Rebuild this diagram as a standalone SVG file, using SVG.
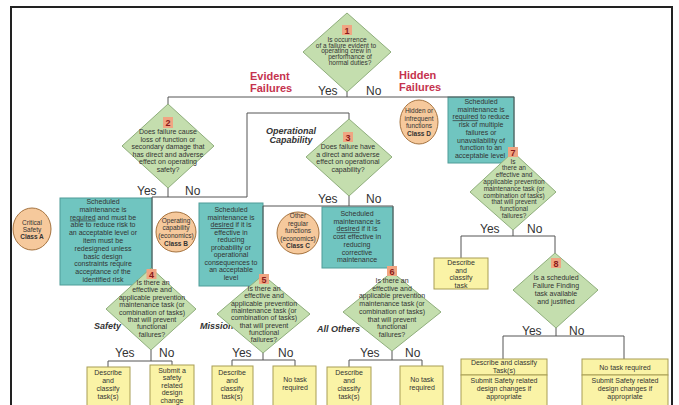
<svg xmlns="http://www.w3.org/2000/svg" width="679" height="405" viewBox="0 0 679 405">
<style>
.t{font-family:"Liberation Sans",Arial,sans-serif;fill:#333;text-anchor:middle}
.s7{font-size:7px}
.s65{font-size:6.5px}
.dia{fill:#c4deae;stroke:#8fae7c;stroke-width:1}
.cy{fill:#70c5c0;stroke:#4f9c98;stroke-width:1}
.ye{fill:#faf3a6;stroke:#a89d55;stroke-width:1}
.ci{fill:#f6c99c;stroke:#a5733f;stroke-width:1}
.bd{fill:#f0a582}
.bn{font-family:"Liberation Sans",Arial,sans-serif;font-size:9px;font-weight:bold;fill:#8b1a1a;text-anchor:middle}
.yn{font-family:"Liberation Sans",Arial,sans-serif;font-size:12px;fill:#333}
.red{font-family:"Liberation Sans",Arial,sans-serif;font-size:11px;font-weight:bold;fill:#c5334e}
.bi{font-family:"Liberation Sans",Arial,sans-serif;font-size:9px;font-weight:bold;font-style:italic;fill:#333}
.conn{stroke:#555;fill:none;stroke-width:1}
.u{text-decoration:underline}
.b{font-weight:bold}
</style>
<rect x="0" y="0" width="679" height="405" fill="#fff"/>
<rect x="11" y="7" width="661" height="410" fill="none" stroke="#222" stroke-width="2"/>

<g id="boxA">
<rect class="cy" x="60" y="198" width="92" height="87"/>
<text class="t s7"><tspan x="103" y="204">Scheduled</tspan><tspan x="103" y="211.8">maintenance is</tspan><tspan x="103" y="219.6"><tspan class="u">required</tspan> and must be</tspan><tspan x="103" y="227.4">able to reduce risk to</tspan><tspan x="103" y="235.2">an acceptable level or</tspan><tspan x="103" y="243">item must be</tspan><tspan x="103" y="250.8">redesigned unless</tspan><tspan x="103" y="258.6">basic design</tspan><tspan x="103" y="266.4">constraints require</tspan><tspan x="103" y="274.2">acceptance of the</tspan><tspan x="103" y="282">identified risk</tspan></text>
</g>

<g id="boxB">
<rect class="cy" x="199" y="203" width="64" height="83"/>
<text class="t s7"><tspan x="231" y="212">Scheduled</tspan><tspan x="231" y="219.5">maintenance is</tspan><tspan x="231" y="227"><tspan class="u">desired</tspan> if it is</tspan><tspan x="231" y="234.5">effective in</tspan><tspan x="231" y="242">reducing</tspan><tspan x="231" y="249.5">probability or</tspan><tspan x="231" y="257">operational</tspan><tspan x="231" y="264.5">consequences to</tspan><tspan x="231" y="272">an acceptable</tspan><tspan x="231" y="279.5">level</tspan></text>
</g>

<g id="boxC">
<rect class="cy" x="322" y="207" width="71" height="61"/>
<text class="t s7"><tspan x="357" y="216">Scheduled</tspan><tspan x="357" y="223.7">maintenance is</tspan><tspan x="357" y="231.4"><tspan class="u">desired</tspan> if it is</tspan><tspan x="357" y="239.1">cost effective in</tspan><tspan x="357" y="246.8">reducing</tspan><tspan x="357" y="254.5">corrective</tspan><tspan x="357" y="262.2">maintenance</tspan></text>
</g>

<g id="boxD">
<rect class="cy" x="448" y="97" width="66" height="66"/>
<text class="t s7"><tspan x="481" y="104">Scheduled</tspan><tspan x="481" y="111.7">maintenance is</tspan><tspan x="481" y="119.4"><tspan class="u">required</tspan> to reduce</tspan><tspan x="481" y="127.1">risk of multiple</tspan><tspan x="481" y="134.8">failures or</tspan><tspan x="481" y="142.5">unavailability of</tspan><tspan x="481" y="150.2">function to an</tspan><tspan x="480" y="157.9">acceptable level</tspan></text>
</g>

<g id="connectors" class="conn">
<path d="M347,92 V97"/>
<path d="M168,104 V97 H514 V148"/>
<path d="M168,188 V197"/>
<path d="M152,270 V197 H247 V113 H349 V119"/>
<path d="M349,196 V206"/>
<path d="M263,275 V206 H393 V267"/>
<path d="M151,350 V361"/>
<path d="M108,367 V361 H172 V365"/>
<path d="M263,353 V360"/>
<path d="M232,366 V360 H295 V366"/>
<path d="M392,351 V360"/>
<path d="M349,367 V360 H422 V366"/>
<path d="M513,230 V236"/>
<path d="M461,258 V236 H555 V253"/>
<path d="M556,328 V336"/>
<path d="M503,359 V336 H624 V359"/>
</g>

<g id="labels">
<text class="red" x="250" y="80">Evident</text>
<text class="red" x="250" y="92">Failures</text>
<text class="red" x="399" y="79">Hidden</text>
<text class="red" x="399" y="91">Failures</text>
<text class="yn" x="318" y="95">Yes</text><text class="yn" x="366" y="95">No</text>
<text class="yn" x="137" y="195">Yes</text><text class="yn" x="185" y="195">No</text>
<text class="yn" x="318" y="203">Yes</text><text class="yn" x="366" y="203">No</text>
<text class="yn" x="115" y="357">Yes</text><text class="yn" x="159" y="357">No</text>
<text class="yn" x="232" y="357">Yes</text><text class="yn" x="278" y="357">No</text>
<text class="yn" x="360" y="357">Yes</text><text class="yn" x="405" y="357">No</text>
<text class="yn" x="480" y="233">Yes</text><text class="yn" x="527" y="233">No</text>
<text class="yn" x="522" y="335">Yes</text><text class="yn" x="569" y="335">No</text>
<text class="bi" x="291" y="134" text-anchor="middle">Operational</text>
<text class="bi" x="291" y="143" text-anchor="middle">Capability</text>
<text class="bi" x="94" y="329">Safety</text>
<text class="bi" x="200" y="329">Mission</text>
<text class="bi" x="317" y="332">All Others</text>
</g>

<g id="classA">
<ellipse class="ci" cx="32" cy="229" rx="19" ry="21"/>
<text class="t s65"><tspan x="32" y="225">Critical</tspan><tspan x="32" y="232">Safety</tspan><tspan x="32" y="239" class="b">Class A</tspan></text>
</g>
<g id="classB">
<ellipse class="ci" cx="176" cy="232" rx="20" ry="20"/>
<text class="t s65"><tspan x="176" y="223">Operating</tspan><tspan x="176" y="230">capability</tspan><tspan x="176" y="237.5">(economics)</tspan><tspan x="176" y="245.5" class="b">Class B</tspan></text>
</g>
<g id="classC">
<ellipse class="ci" cx="298" cy="233" rx="21" ry="21"/>
<text class="t s65"><tspan x="298" y="218">Other</tspan><tspan x="298" y="225.5">regular</tspan><tspan x="298" y="233">functions</tspan><tspan x="298" y="240.5">(economics)</tspan><tspan x="298" y="248" class="b">Class C</tspan></text>
</g>
<g id="classD">
<ellipse class="ci" cx="419" cy="122" rx="19" ry="22"/>
<text class="t s65"><tspan x="419" y="113">Hidden or</tspan><tspan x="419" y="120.5">infrequent</tspan><tspan x="419" y="128">functions</tspan><tspan x="419" y="135.5" class="b">Class D</tspan></text>
</g>

<g id="node1">
<polygon class="dia" points="347,13 391,52 347,92 303,52"/>
<rect class="bd" x="342" y="25" width="10" height="10"/>
<text class="bn" x="347" y="33.5">1</text>
<text class="t s65"><tspan x="347" y="42">Is occurrence</tspan><tspan x="346" y="47.7">of a failure evident to</tspan><tspan x="346" y="53.4">operating crew  in</tspan><tspan x="350" y="59.1">performance of</tspan><tspan x="350" y="64.8">normal duties?</tspan></text>
</g>

<g id="node2">
<polygon class="dia" points="168,104 214,146 168,188 122,146"/>
<rect class="bd" x="163" y="117" width="10" height="11"/>
<text class="bn" x="168" y="126">2</text>
<text class="t s7"><tspan x="168" y="134">Does failure cause</tspan><tspan x="168" y="141.5">loss of function or</tspan><tspan x="168" y="149">secondary damage that</tspan><tspan x="168" y="156.5">has direct and adverse</tspan><tspan x="168" y="164">effect on operating</tspan><tspan x="168" y="171.5">safety?</tspan></text>
</g>

<g id="node3">
<polygon class="dia" points="349,119 392,157 349,196 306,157"/>
<rect class="bd" x="343" y="132" width="10" height="10"/>
<text class="bn" x="348" y="140.5">3</text>
<text class="t s7"><tspan x="348" y="149">Does failure have</tspan><tspan x="348" y="156.5">a direct and adverse</tspan><tspan x="348" y="164">effect on operational</tspan><tspan x="348" y="171.5">capability?</tspan></text>
</g>

<g id="node4">
<polygon class="dia" points="151,268 196,309 151,350 106,309"/>
<rect class="bd" x="146.5" y="269" width="10" height="10"/>
<text class="bn" x="151.5" y="277.5">4</text>
<text class="t s7"><tspan x="153" y="285">Is there an</tspan><tspan x="152" y="292.4">effective and</tspan><tspan x="152" y="299.8">applicable prevention</tspan><tspan x="152" y="307.2">maintenance task (or</tspan><tspan x="152" y="314.6">combination of tasks)</tspan><tspan x="152" y="322">that will prevent</tspan><tspan x="152" y="329.4">functional</tspan><tspan x="152" y="336.8">failures?</tspan></text>
</g>

<g id="node5">
<polygon class="dia" points="263,275 310,314 263,353 217,314"/>
<rect class="bd" x="259" y="274" width="10" height="10"/>
<text class="bn" x="264" y="282.5">5</text>
<text class="t s7"><tspan x="264" y="291">Is there an</tspan><tspan x="264" y="298.3">effective and</tspan><tspan x="264" y="305.6">applicable prevention</tspan><tspan x="264" y="312.9">maintenance task (or</tspan><tspan x="264" y="320.2">combination of tasks)</tspan><tspan x="264" y="327.5">that will prevent</tspan><tspan x="264" y="334.8">functional</tspan><tspan x="264" y="342.1">failures?</tspan></text>
</g>

<g id="node6">
<polygon class="dia" points="392,272 441,312 392,351 343,312"/>
<rect class="bd" x="387" y="266" width="10" height="10"/>
<text class="bn" x="392" y="274.5">6</text>
<text class="t s7"><tspan x="392" y="283">Is there an</tspan><tspan x="392" y="290.7">effective and</tspan><tspan x="392" y="298.4">applicable prevention</tspan><tspan x="392" y="306.1">maintenance task (or</tspan><tspan x="392" y="313.8">combination of tasks)</tspan><tspan x="392" y="321.5">that will prevent</tspan><tspan x="392" y="329.2">functional</tspan><tspan x="392" y="336.9">failures?</tspan></text>
</g>

<g id="node7">
<polygon class="dia" points="513,152 556,192 513,230 470,192"/>
<rect class="bd" x="508" y="147" width="10" height="10"/>
<text class="bn" x="513" y="155.5">7</text>
<text class="t s65"><tspan x="513" y="163.5">Is</tspan><tspan x="514" y="170.3">there an</tspan><tspan x="514" y="177.1">effective and</tspan><tspan x="514" y="183.9">applicable prevention</tspan><tspan x="514" y="190.7">maintenance task (or</tspan><tspan x="514" y="197.5">combination of tasks)</tspan><tspan x="514" y="204.3">that will prevent</tspan><tspan x="514" y="211.1">functional</tspan><tspan x="514" y="217.9">failures?</tspan></text>
</g>

<g id="node8">
<polygon class="dia" points="555,253 598,290 556,328 513,290"/>
<rect class="bd" x="551" y="258" width="10" height="10"/>
<text class="bn" x="556" y="266.5">8</text>
<text class="t s7"><tspan x="556" y="280">Is a scheduled</tspan><tspan x="556" y="288">Failure Finding</tspan><tspan x="556" y="296">task available</tspan><tspan x="556" y="303.5">and justified</tspan></text>
</g>

<g id="task4yes">
<rect class="ye" x="87" y="367" width="43" height="45"/>
<text class="t s7"><tspan x="108" y="375">Describe</tspan><tspan x="108" y="383">and</tspan><tspan x="108" y="391">classify</tspan><tspan x="108" y="398.5">task(s)</tspan></text>
</g>
<g id="task4no">
<rect class="ye" x="150" y="365" width="44" height="47"/>
<text class="t s7"><tspan x="172" y="372.5">Submit a</tspan><tspan x="172" y="380">safety</tspan><tspan x="172" y="387.5">related</tspan><tspan x="172" y="395">design</tspan><tspan x="172" y="402.5">change</tspan></text>
</g>
<g id="task5yes">
<rect class="ye" x="212" y="366" width="41" height="46"/>
<text class="t s7"><tspan x="232" y="375">Describe</tspan><tspan x="232" y="383">and</tspan><tspan x="232" y="391">classify</tspan><tspan x="232" y="398.5">task(s)</tspan></text>
</g>
<g id="task5no">
<rect class="ye" x="273" y="366" width="43" height="46"/>
<text class="t s7"><tspan x="295" y="382">No task</tspan><tspan x="295" y="389.5">required</tspan></text>
</g>
<g id="task6yes">
<rect class="ye" x="327" y="367" width="44" height="45"/>
<text class="t s7"><tspan x="349" y="375">Describe</tspan><tspan x="349" y="383">and</tspan><tspan x="349" y="391">classify</tspan><tspan x="349" y="398.5">task(s)</tspan></text>
</g>
<g id="task6no">
<rect class="ye" x="400" y="366" width="43" height="46"/>
<text class="t s7"><tspan x="422" y="382">No task</tspan><tspan x="422" y="389.5">required</tspan></text>
</g>
<g id="task7yes">
<rect class="ye" x="434" y="258" width="54" height="31"/>
<text class="t s7"><tspan x="461" y="265">Describe</tspan><tspan x="461" y="272.5">and</tspan><tspan x="461" y="280">classify</tspan><tspan x="461" y="287.5">task</tspan></text>
</g>
<g id="task8yes">
<rect class="ye" x="461" y="359" width="86" height="16"/>
<rect class="ye" x="461" y="375" width="86" height="40"/>
<text class="t s7"><tspan x="504" y="365">Describe and classify</tspan><tspan x="504" y="372.5">Task(s)</tspan><tspan x="504" y="383">Submit Safety related</tspan><tspan x="504" y="391">design changes if</tspan><tspan x="504" y="398.5">appropriate</tspan></text>
</g>
<g id="task8no">
<rect class="ye" x="582" y="359" width="86" height="16"/>
<rect class="ye" x="582" y="375" width="86" height="40"/>
<text class="t s7"><tspan x="625" y="369.5">No task required</tspan><tspan x="625" y="383">Submit Safety related</tspan><tspan x="625" y="391">design changes if</tspan><tspan x="625" y="398.5">appropriate</tspan></text>
</g>
</svg>
